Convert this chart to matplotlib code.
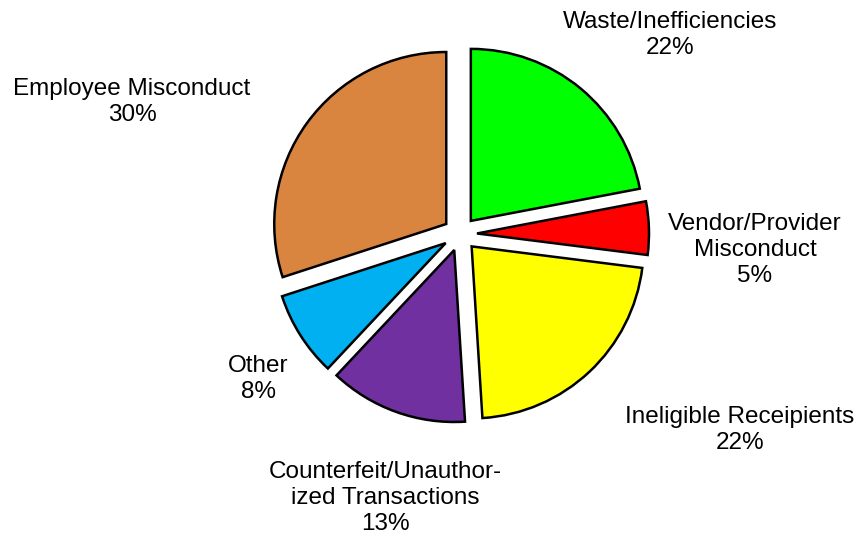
import matplotlib
matplotlib.use('Agg')
import matplotlib.pyplot as plt

# slice data, clockwise from 12 o'clock
categories = ['Waste/Inefficiencies', 'Vendor/Provider\nMisconduct', 'Ineligible Receipients',
              'Counterfeit/Unauthor-\nized Transactions', 'Other', 'Employee Misconduct']
shares = [22, 5, 22, 13, 8, 30]
colors = ['#00FF00', '#FF0000', '#FFFF00', '#7030A0', '#00B0F0', '#D9843F']

# label block centres in pixels (x, y from top)
label_pos = [(670, 35), (755, 250), (740, 430), (385, 498), (258, 379), (132, 102)]

plt.rcParams['font.family'] = ['Liberation Sans', 'DejaVu Sans']

fig = plt.figure(figsize=(8.6, 5.4), dpi=100)
ax = fig.add_axes([0, 0, 1, 1])

# explode is in data units (pixels here), not a fraction of the radius
ax.pie(shares, colors=colors, startangle=90, counterclock=False,
       center=(460, 540 - 234), radius=172, explode=[17] * len(shares),
       wedgeprops=dict(edgecolor='black', linewidth=1.8), frame=True)
ax.set_xlim(0, 860)
ax.set_ylim(0, 540)
ax.set_aspect('equal')
ax.axis('off')

for name, val, (x, y) in zip(categories, shares, label_pos):
    ax.text(x, 540 - y, f'{name}\n{val}%', ha='center', va='center',
            fontsize=17.5, linespacing=1.25, color='black')

plt.savefig('out.png', dpi=100)
